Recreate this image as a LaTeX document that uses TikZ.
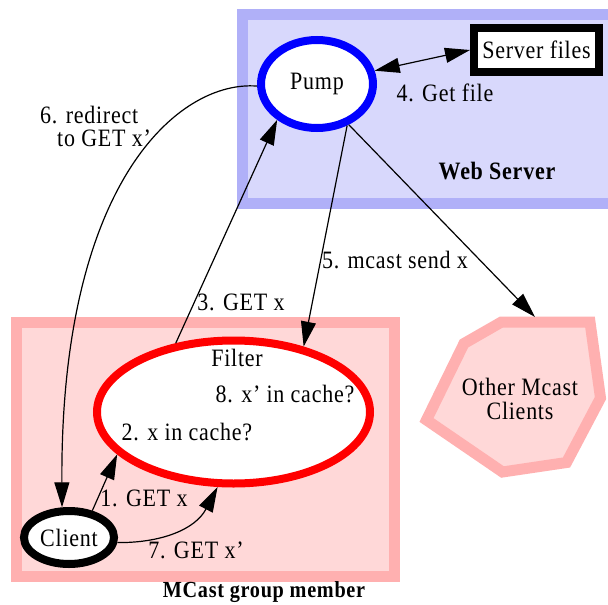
\documentclass[tikz,border=0pt]{standalone}
\usepackage{fontspec}
\setmainfont{Liberation Serif}[FakeStretch=0.88, LetterSpace=3]
\usetikzlibrary{shapes.geometric,arrows.meta}
\definecolor{wsline}{RGB}{176,176,248}
\definecolor{wsfill}{RGB}{216,216,252}
\definecolor{mcline}{RGB}{255,176,176}
\definecolor{mcfill}{RGB}{255,216,216}

\begin{document}
\begin{tikzpicture}[
x=1pt, y=-1pt,
font=\fontsize{25}{26}\selectfont,
    G/.style = {line width=11pt, draw=#1line, fill=#1fill,% clusters
                line join=miter},
    P/.style = {ellipse, line width=8pt, draw=#1, fill=white,% processes
                inner sep=0pt},
    T/.style = {inner sep=0pt},% plain labels
    E/.style = {-{Triangle[length=25pt,width=15pt]}, line width=1.2pt},
    D/.style = {{Triangle[length=25pt,width=15pt]}-{Triangle[length=25pt,width=15pt]},
                line width=1.2pt},
                        ]
\useasboundingbox (0,0) rectangle (608,605);

% clusters
\draw[G=ws] (242.5,14.5) rectangle (614,203.5);
\draw[G=mc] (16.5,322.5) rectangle (394.5,576.5);
\node[T,font=\fontsize{25}{26}\selectfont\bfseries] (web) at (497,171) {Web Server};
\node[T,font=\fontsize{23}{26}\selectfont\bfseries] (grp) at (264,592) {MCast group member};

% other clients
\draw[G=mc] (501.5,322) -- (590,322) -- (600.5,398) -- (566.5,462.5)
            -- (502.5,472) -- (426.5,420) -- (464,343.5) -- cycle;
\coordinate (otop) at (535,317);
\node[T,align=center,font=\fontsize{25}{24}\selectfont] (other) at (520,399) {Other Mcast\\Clients};

% processes
\node[P=blue, minimum width=112pt, minimum height=88pt] (pump) at (317,84) {Pump};
\node[P=red, minimum width=273pt, minimum height=143pt] (filter) at (233.5,412) {};
\node[P=black, minimum width=90pt, minimum height=53pt] (client) at (69,537.5) {Client};
\node[rectangle, draw, line width=8pt, fill=white, minimum width=125pt,
      minimum height=44pt, inner sep=0pt] (files) at (536.5,50) {Server files};

\node[T] (ftitle) at (237,358) {Filter};
\node[T] (inc8) at (285,394) {8. x’ in cache?};
\node[T] (inc2) at (187,432) {2. x in cache?};

% messages
\draw[E] (client.49) -- (filter.200);
\node[T] (m1) at (144,498) {1. GET x};
\draw[E] (filter.130) -- (pump.222);
\node[T] (m3) at (241,302) {3. GET x};
\draw[D] (pump.13) -- (files.west);
\node[T] (m4) at (445,93) {4. Get file};
\draw[E] (pump.-54) -- (filter.43);
\node[T] (m5) at (395,260) {5. mcast send x};
\draw[E] (pump.-52) -- (otop);
\draw[E] (pump.182) .. controls (180,80) and (60,180) .. (client.103);
\node[T,anchor=north west,align=left,font=\fontsize{25}{23}\selectfont] (m6) at (40,106)
      {6. redirect\\\hspace{17pt}to GET x’};
\draw[E] (client.-6) .. controls (160,543) and (195,530) .. (filter.258);
\node[T] (m7) at (196,550) {7. GET x’};

\end{tikzpicture}
\end{document}
